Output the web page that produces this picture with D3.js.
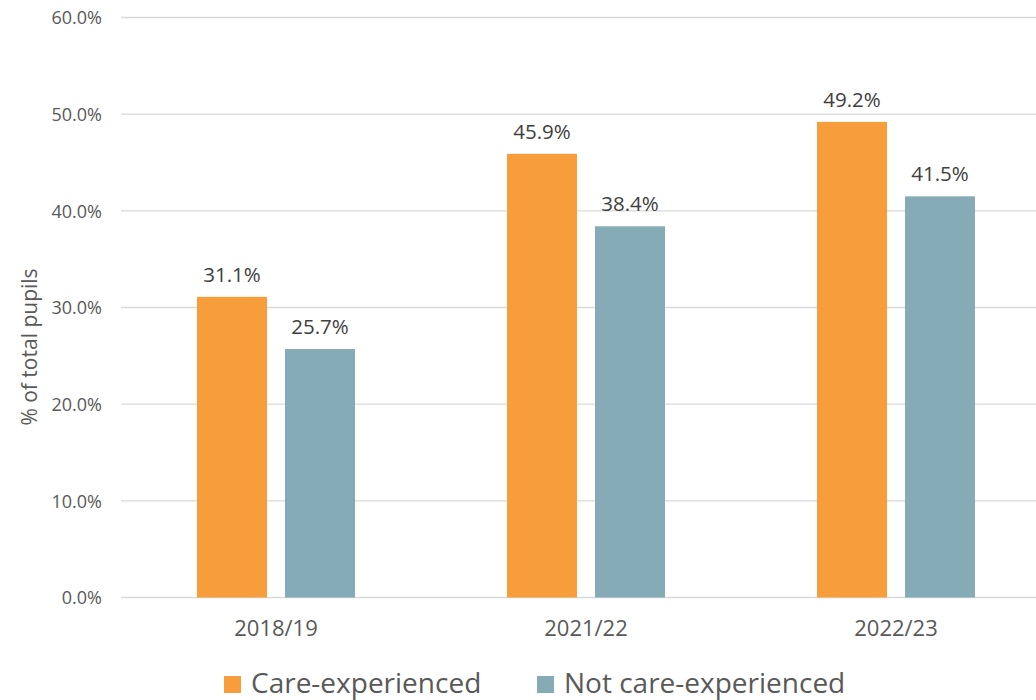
<!DOCTYPE html>
<html>
<head>
<meta charset="utf-8">
<script src="https://cdn.jsdelivr.net/npm/d3@7"></script>
<style>
  body { margin: 0; background: #fff; }
  text { font-family: "Open Sans", "Noto Sans", sans-serif; }
</style>
</head>
<body>
<div id="chart"></div>
<script>
// chart data
var years = ['2018/19', '2021/22', '2022/23'];
var seriesNames = ['Care-experienced', 'Not care-experienced'];
var careValues = [31.1, 45.9, 49.2];
var notCareValues = [25.7, 38.4, 41.5];
var yTicks = [0, 10, 20, 30, 40, 50, 60];

var colors = ['#F79D3B', '#85ACB6'];

// svg area
var svgWidth = 1036;
var svgHeight = 700;

var svg = d3.select('#chart')
  .append('svg')
  .attr('width', svgWidth)
  .attr('height', svgHeight);

// scales
var x0 = d3.scaleBand()
  .domain(years)
  .range([121, 1051]);

var x1 = d3.scaleBand()
  .domain(seriesNames)
  .range([-79, 79])
  .paddingInner(18 / 88);

var y = d3.scaleLinear()
  .domain([0, 60])
  .range([597.5, 17.5]);

// gridlines
svg.append('g')
  .selectAll('line')
  .data(yTicks)
  .enter()
  .append('line')
  .attr('x1', 121)
  .attr('x2', svgWidth)
  .attr('y1', d => y(d))
  .attr('y2', d => y(d))
  .attr('stroke', '#d9d9d9')
  .attr('stroke-width', 1.3);

// y axis
var leftAxis = d3.axisLeft(y)
  .tickValues(yTicks)
  .tickSize(0)
  .tickPadding(0)
  .tickFormat(d => d.toFixed(1) + '%');

var yAxis = svg.append('g')
  .attr('transform', 'translate(102, 0)')
  .call(leftAxis);
yAxis.select('.domain').remove();
yAxis.selectAll('text')
  .attr('fill', '#595959')
  .attr('dy', '0.36em')
  .style('font-size', '18px');

// x axis
var bottomAxis = d3.axisBottom(x0).tickSize(0).tickPadding(0);
var xAxis = svg.append('g')
  .attr('transform', 'translate(0, 636)')
  .call(bottomAxis);
xAxis.select('.domain').remove();
xAxis.selectAll('text')
  .attr('fill', '#595959')
  .attr('dy', 0)
  .style('font-size', '22px');

// y axis title
svg.append('text')
  .attr('transform', 'rotate(-90)')
  .attr('x', -347)
  .attr('y', 37)
  .attr('text-anchor', 'middle')
  .attr('fill', '#595959')
  .style('font-size', '21px')
  .text('% of total pupils');

// bars
var seriesData = [careValues, notCareValues];
seriesNames.forEach(function(name, i) {
  var g = svg.append('g');
  var rows = years.map((yr, j) => ({ year: yr, value: seriesData[i][j] }));

  g.selectAll('rect')
    .data(rows)
    .enter()
    .append('rect')
    .attr('x', d => x0(d.year) + x0.bandwidth() / 2 + x1(name))
    .attr('y', d => y(d.value))
    .attr('width', x1.bandwidth())
    .attr('height', d => y(0) - y(d.value))
    .attr('fill', colors[i]);

  g.selectAll('text')
    .data(rows)
    .enter()
    .append('text')
    .attr('x', d => x0(d.year) + x0.bandwidth() / 2 + x1(name) + x1.bandwidth() / 2)
    .attr('y', d => y(d.value) - 15)
    .attr('text-anchor', 'middle')
    .attr('fill', '#404040')
    .style('font-size', '20.5px')
    .text(d => d.value.toFixed(1) + '%');
});

// legend
var legendX = [224, 537];
var legend = svg.append('g');
seriesNames.forEach(function(name, i) {
  legend.append('rect')
    .attr('x', legendX[i])
    .attr('y', 676)
    .attr('width', 17)
    .attr('height', 17)
    .attr('fill', colors[i]);
  legend.append('text')
    .attr('x', legendX[i] + 27)
    .attr('y', 693)
    .attr('fill', '#595959')
    .style('font-size', '28px')
    .text(name);
});
</script>
</body>
</html>
